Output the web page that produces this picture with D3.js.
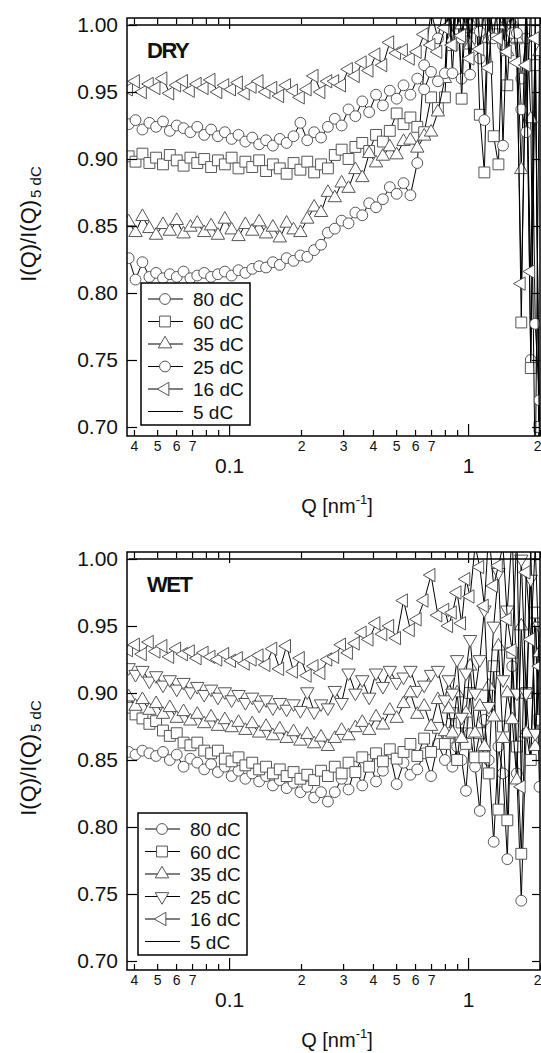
<!DOCTYPE html>
<html>
<head>
<meta charset="utf-8">
<script src="https://cdn.jsdelivr.net/npm/d3@7"></script>
<style>
body { margin: 0; background: #fff; }
svg { display: block; }
text { font-family: "Liberation Sans", Arial, sans-serif; fill: #111; }
</style>
</head>
<body>
<svg id="chart" width="541" height="1053"></svg>
<script>
// Q grid [nm^-1], shared by every trace
var q = [0.038, 0.0406, 0.0434, 0.0464, 0.0495, 0.0529, 0.0565, 0.0604, 0.0645, 0.0689,
    0.0736, 0.0787, 0.0841, 0.0898, 0.0960, 0.1025, 0.1095, 0.1170, 0.1250, 0.1336,
    0.1428, 0.1525, 0.1630, 0.1741, 0.1861, 0.1988, 0.2124, 0.2270, 0.2425, 0.2591,
    0.2769, 0.2958, 0.3161, 0.3377, 0.3609, 0.3856, 0.4120, 0.4402, 0.4704, 0.5026,
    0.5370, 0.5738, 0.6131, 0.6551, 0.7000, 0.7479, 0.80,
    0.83, 0.86, 0.90, 0.94, 0.98, 1.02, 1.07, 1.12, 1.17, 1.22,
    1.28, 1.34, 1.40, 1.46, 1.53, 1.60, 1.67, 1.75, 1.83, 1.91, 1.99];

// DRY
var dry80 = [0.826, 0.810, 0.823, 0.812, 0.815, 0.811, 0.814, 0.812, 0.816, 0.811,
    0.813, 0.815, 0.812, 0.814, 0.816, 0.813, 0.817, 0.815, 0.818, 0.820,
    0.819, 0.823, 0.821, 0.826, 0.824, 0.828, 0.827, 0.832, 0.836, 0.845,
    0.848, 0.854, 0.852, 0.860, 0.858, 0.867, 0.864, 0.870, 0.879, 0.874,
    0.882, 0.873, 0.897, 0.97, 1.01, 0.99, 1.02,
    1.03, 0.99, 1.02, 0.96, 1.04, 1.0, 1.01, 0.975, 1.03, 0.99,
    1.02, 1.01, 0.985, 1.04, 1.0, 1.02, 0.96, 0.99, 0.75, 1.01, 0.62];
var dry60 = [0.902, 0.898, 0.904, 0.897, 0.901, 0.896, 0.903, 0.899, 0.895, 0.901,
    0.897, 0.900, 0.894, 0.899, 0.896, 0.901, 0.893, 0.898, 0.894, 0.899,
    0.891, 0.896, 0.893, 0.889, 0.897, 0.892, 0.898, 0.890, 0.896, 0.893,
    0.903, 0.907, 0.900, 0.909, 0.912, 0.906, 0.918, 0.913, 0.921, 0.934,
    0.926, 0.931, 0.924, 0.920, 0.946, 0.938, 0.946,
    1.01, 0.985, 1.03, 0.945, 1.02, 0.99, 1.04, 0.933, 0.890, 1.02,
    0.917, 0.896, 1.01, 0.955, 1.03, 0.99, 0.778, 1.02, 0.744, 0.97, 0.70];
var dry35 = [0.853, 0.845, 0.857, 0.848, 0.843, 0.851, 0.846, 0.854, 0.844, 0.849,
    0.852, 0.845, 0.850, 0.843, 0.855, 0.847, 0.842, 0.851, 0.846, 0.853,
    0.844, 0.849, 0.841, 0.852, 0.847, 0.845, 0.855, 0.864, 0.860, 0.875,
    0.871, 0.882, 0.878, 0.892, 0.886, 0.904, 0.897, 0.902, 0.909, 0.903,
    0.913, 0.914, 0.908, 0.917, 0.920, 0.935, 0.960,
    1.02, 0.99, 1.04, 1.0, 1.03, 0.985, 1.02, 1.01, 1.04, 0.99,
    1.02, 1.0, 1.03, 0.98, 1.01, 0.99, 0.892, 1.02, 0.93, 0.66, 0.98];
var dry25 = [0.926, 0.929, 0.922, 0.927, 0.924, 0.928, 0.921, 0.925, 0.923, 0.920,
    0.924, 0.918, 0.922, 0.917, 0.920, 0.915, 0.918, 0.913, 0.916, 0.911,
    0.914, 0.910, 0.915, 0.912, 0.917, 0.927, 0.914, 0.920, 0.916, 0.924,
    0.930, 0.925, 0.937, 0.932, 0.943, 0.935, 0.948, 0.940, 0.951, 0.945,
    0.955, 0.948, 0.960, 0.952, 0.965, 0.958, 0.964,
    1.02, 0.964, 1.03, 0.99, 1.01, 0.963, 1.04, 0.995, 0.929, 1.02,
    0.99, 1.03, 0.910, 1.01, 0.994, 0.994, 0.937, 0.92, 1.02, 0.777, 0.72];
var dry16 = [0.952, 0.958, 0.950, 0.956, 0.953, 0.960, 0.949, 0.955, 0.958, 0.951,
    0.956, 0.953, 0.959, 0.950, 0.955, 0.952, 0.957, 0.949, 0.954, 0.958,
    0.950, 0.953, 0.947, 0.955, 0.951, 0.946, 0.952, 0.962, 0.950, 0.958,
    0.958, 0.955, 0.967, 0.962, 0.972, 0.966, 0.978, 0.970, 0.987, 0.979,
    0.981, 0.975, 0.980, 0.993, 0.985, 0.980, 0.998,
    1.01, 0.985, 1.03, 0.992, 1.02, 0.975, 1.04, 0.982, 1.01, 0.968,
    1.03, 0.99, 1.02, 0.98, 1.01, 0.972, 0.807, 0.97, 0.816, 0.99, 0.68];

// WET
var wet80 = [0.856, 0.854, 0.857, 0.855, 0.853, 0.856, 0.850, 0.854, 0.845, 0.851,
    0.848, 0.843, 0.847, 0.841, 0.845, 0.838, 0.842, 0.836, 0.840, 0.834,
    0.838, 0.831, 0.835, 0.829, 0.833, 0.826, 0.830, 0.822, 0.826, 0.819,
    0.826, 0.836, 0.828, 0.845, 0.831, 0.850, 0.834, 0.842, 0.855, 0.832,
    0.848, 0.839, 0.843, 0.855, 0.838, 0.862, 0.850,
    0.866, 0.845, 0.86, 0.85, 0.827, 0.87, 0.845, 0.812, 0.88, 0.85,
    0.789, 0.86, 0.84, 0.776, 0.92, 0.84, 0.745, 0.87, 0.85, 0.96, 0.83];
var wet60 = [0.889, 0.884, 0.881, 0.877, 0.879, 0.872, 0.868, 0.870, 0.863, 0.861,
    0.863, 0.857, 0.855, 0.857, 0.851, 0.849, 0.852, 0.846, 0.848, 0.843,
    0.845, 0.840, 0.843, 0.838, 0.841, 0.836, 0.839, 0.835, 0.842, 0.838,
    0.845, 0.840, 0.848, 0.841, 0.852, 0.845, 0.855, 0.849, 0.858, 0.851,
    0.856, 0.862, 0.853, 0.866, 0.856, 0.874, 0.862,
    0.87, 0.885, 0.85, 0.878, 0.862, 0.9, 0.852, 0.87, 0.852, 0.84,
    0.92, 0.813, 0.875, 0.805, 0.93, 0.86, 0.78, 0.9, 0.85, 0.96, 0.88];
var wet35 = [0.897, 0.890, 0.895, 0.887, 0.892, 0.884, 0.889, 0.881, 0.886, 0.879,
    0.884, 0.877, 0.882, 0.875, 0.880, 0.874, 0.878, 0.872, 0.877, 0.870,
    0.875, 0.868, 0.873, 0.866, 0.871, 0.864, 0.869, 0.862, 0.867, 0.860,
    0.866, 0.872, 0.868, 0.874, 0.878, 0.872, 0.882, 0.876, 0.887, 0.881,
    0.892, 0.900, 0.884, 0.890, 0.875, 0.895, 0.871,
    0.888, 0.87, 0.9, 0.866, 0.885, 0.92, 0.87, 0.89, 0.86, 0.905,
    0.882, 0.935, 0.866, 0.9, 0.88, 0.835, 0.95, 0.87, 1.01, 0.86, 0.93];
var wet25 = [0.919, 0.914, 0.917, 0.909, 0.913, 0.906, 0.910, 0.903, 0.908, 0.901,
    0.905, 0.899, 0.903, 0.897, 0.901, 0.895, 0.899, 0.893, 0.897, 0.891,
    0.895, 0.889, 0.893, 0.888, 0.892, 0.887, 0.901, 0.886, 0.892, 0.889,
    0.902, 0.893, 0.915, 0.900, 0.910, 0.897, 0.915, 0.905, 0.917, 0.908,
    0.912, 0.917, 0.902, 0.906, 0.914, 0.917, 0.895,
    0.91, 0.9, 0.925, 0.882, 0.915, 0.94, 0.9, 0.925, 0.962, 0.89,
    0.95, 0.99, 0.91, 0.962, 1.02, 0.9, 1.0, 0.9, 0.985, 0.87, 0.95];
var wet16 = [0.932, 0.936, 0.929, 0.938, 0.931, 0.935, 0.927, 0.933, 0.929, 0.931,
    0.926, 0.930, 0.927, 0.925, 0.929, 0.924, 0.926, 0.922, 0.925, 0.928,
    0.921, 0.933, 0.918, 0.935, 0.916, 0.926, 0.913, 0.920, 0.915, 0.925,
    0.927, 0.936, 0.930, 0.937, 0.945, 0.940, 0.952, 0.944, 0.950, 0.941,
    0.969, 0.947, 0.955, 0.969, 0.988, 0.958, 0.962,
    0.95, 0.96, 0.975, 0.952, 0.985, 0.972, 1.01, 0.994, 0.965, 1.02,
    0.98, 0.995, 1.01, 0.955, 0.932, 1.02, 0.83, 0.99, 0.94, 1.01, 0.92];

// 5 dC is the reference, so its ratio is 1
var ref5dC = 1.0;

var yTicks = [0.70, 0.75, 0.80, 0.85, 0.90, 0.95, 1.00];
var xMajorTicks = [0.1, 1];
var xMajorLabels = ["0.1", "1"];
var xMinorTicks = [0.04, 0.05, 0.06, 0.07, 0.08, 0.09, 0.2, 0.3, 0.4, 0.5, 0.6, 0.7, 0.8, 0.9, 2];
var xMinorLabels = ["4", "5", "6", "7", "", "", "2", "3", "4", "5", "6", "7", "", "", "2"];

var svg = d3.select("#chart");
var left = 127, right = 540, plotH = 418;
var x = d3.scaleLog().domain([0.0374, 2.0]).range([left, right]);

var symbolPath = {
    circle: d3.symbol().type(d3.symbolCircle).size(92)(),
    square: d3.symbol().type(d3.symbolSquare).size(118)(),
    triangle: d3.symbol().type(d3.symbolTriangle).size(78)()
};
var rot = { circle: 0, square: 0, up: 0, down: 180, left: -90 };

var addMarker = function (g, kind, px, py) {
    var shape = (kind == "up" || kind == "down" || kind == "left") ? "triangle" : kind;
    g.append("path")
        .attr("d", symbolPath[shape])
        .attr("transform", "translate(" + px + "," + py + ") rotate(" + rot[kind] + ")")
        .attr("fill", "#fff")
        .attr("stroke", "#555")
        .attr("stroke-width", 1);
};

var drawPanel = function (top, name, traces, legendTop, legendLeft) {
    var y = d3.scaleLinear().domain([0.70, 1.00]).range([top + 409, top + 7]);
    var clipId = "clip" + name;
    svg.append("clipPath").attr("id", clipId)
        .append("rect").attr("x", left).attr("y", top).attr("width", right - left).attr("height", plotH);

    var plot = svg.append("g").attr("clip-path", "url(#" + clipId + ")");
    var line = d3.line().x(function (d) { return x(d[0]); }).y(function (d) { return y(d[1]); });

    traces.forEach(function (t) {
        var pts = q.map(function (qq, i) { return [qq, t.values[i]]; });
        plot.append("path").attr("d", line(pts))
            .attr("fill", "none").attr("stroke", "#000").attr("stroke-width", 1);
        var mg = plot.append("g");
        pts.forEach(function (p) { addMarker(mg, t.marker, x(p[0]), y(p[1])); });
    });
    plot.append("path")
        .attr("d", line([[q[0], ref5dC], [2.0, ref5dC]]))
        .attr("fill", "none").attr("stroke", "#000").attr("stroke-width", 1.3);

    // axes
    var bottom = top + plotH;
    var styleAxis = function (g) {
        g.select(".domain").remove();
        g.selectAll(".tick line").attr("stroke", "#000").attr("stroke-width", 1.2);
        g.selectAll("text").attr("fill", "#111");
    };
    var minor = svg.append("g").attr("transform", "translate(0," + bottom + ")")
        .call(d3.axisBottom(x).tickValues(xMinorTicks).tickSize(-6).tickPadding(5)
            .tickFormat(function (d, i) { return xMinorLabels[i]; }))
        .call(styleAxis);
    minor.selectAll("text").attr("font-size", 14);
    // last label sits on the right frame, keep it inside the page
    minor.selectAll("text").filter(function (d) { return d == 2; })
        .attr("text-anchor", "end").attr("dx", 1);
    svg.append("g").attr("transform", "translate(0," + bottom + ")")
        .call(d3.axisBottom(x).tickValues(xMajorTicks).tickSize(-12).tickPadding(22)
            .tickFormat(function (d, i) { return xMajorLabels[i]; }))
        .call(styleAxis).selectAll("text").attr("font-size", 21);
    svg.append("g").attr("transform", "translate(0," + top + ")")
        .call(d3.axisTop(x).tickValues(xMinorTicks).tickSize(-6).tickFormat(""))
        .call(styleAxis);
    svg.append("g").attr("transform", "translate(0," + top + ")")
        .call(d3.axisTop(x).tickValues(xMajorTicks).tickSize(-11).tickFormat(""))
        .call(styleAxis);
    svg.append("g").attr("transform", "translate(" + left + ",0)")
        .call(d3.axisLeft(y).tickValues(yTicks).tickSize(-10).tickPadding(9).tickFormat(d3.format(".2f")))
        .call(styleAxis).selectAll("text").attr("font-size", 21);
    svg.append("g").attr("transform", "translate(" + right + ",0)")
        .call(d3.axisRight(y).tickValues(yTicks).tickSize(-8).tickFormat(""))
        .call(styleAxis);

    svg.append("rect").attr("x", left).attr("y", top).attr("width", right - left).attr("height", plotH)
        .attr("fill", "none").attr("stroke", "#000").attr("stroke-width", 1.5);

    // panel name
    svg.append("text").attr("x", left + 20).attr("y", top + 40)
        .attr("font-size", 22).attr("font-weight", "bold").attr("letter-spacing", -1.5)
        .text(name);

    // axis titles
    var xt = svg.append("text").attr("x", 337).attr("y", bottom + 77)
        .attr("text-anchor", "middle").attr("font-size", 20);
    xt.append("tspan").text("Q [nm");
    xt.append("tspan").attr("font-size", 13).attr("dy", -9).text("-1");
    xt.append("tspan").attr("dy", 9).text("]");

    var yt = svg.append("text")
        .attr("transform", "translate(36," + (top + 206) + ") rotate(-90)")
        .attr("text-anchor", "middle").attr("font-size", 22);
    yt.append("tspan").text("I(Q)/I(Q)");
    yt.append("tspan").attr("font-size", 15).attr("dy", 5).attr("dx", 2).text("5 dC");

    // legend
    var rowH = 22.5;
    var lg = svg.append("g");
    lg.append("rect").attr("x", legendLeft).attr("y", legendTop)
        .attr("width", 109).attr("height", 142)
        .attr("fill", "#fff").attr("stroke", "#000").attr("stroke-width", 1.5);
    var entries = traces.concat([{ label: "5 dC", marker: null }]);
    entries.forEach(function (t, i) {
        var cy = legendTop + 16 + i * rowH;
        lg.append("line").attr("x1", legendLeft + 7).attr("x2", legendLeft + 42)
            .attr("y1", cy).attr("y2", cy).attr("stroke", "#000").attr("stroke-width", 1.2);
        if (t.marker) addMarker(lg, t.marker, legendLeft + 24, cy);
        lg.append("text").attr("x", legendLeft + 52).attr("y", cy + 7)
            .attr("font-size", 19).text(t.label);
    });
};

drawPanel(18, "DRY", [
    { label: "80 dC", marker: "circle", values: dry80 },
    { label: "60 dC", marker: "square", values: dry60 },
    { label: "35 dC", marker: "up", values: dry35 },
    { label: "25 dC", marker: "circle", values: dry25 },
    { label: "16 dC", marker: "left", values: dry16 }
], 283, 141);

drawPanel(552, "WET", [
    { label: "80 dC", marker: "circle", values: wet80 },
    { label: "60 dC", marker: "square", values: wet60 },
    { label: "35 dC", marker: "up", values: wet35 },
    { label: "25 dC", marker: "down", values: wet25 },
    { label: "16 dC", marker: "left", values: wet16 }
], 813, 138);
</script>
</body>
</html>
